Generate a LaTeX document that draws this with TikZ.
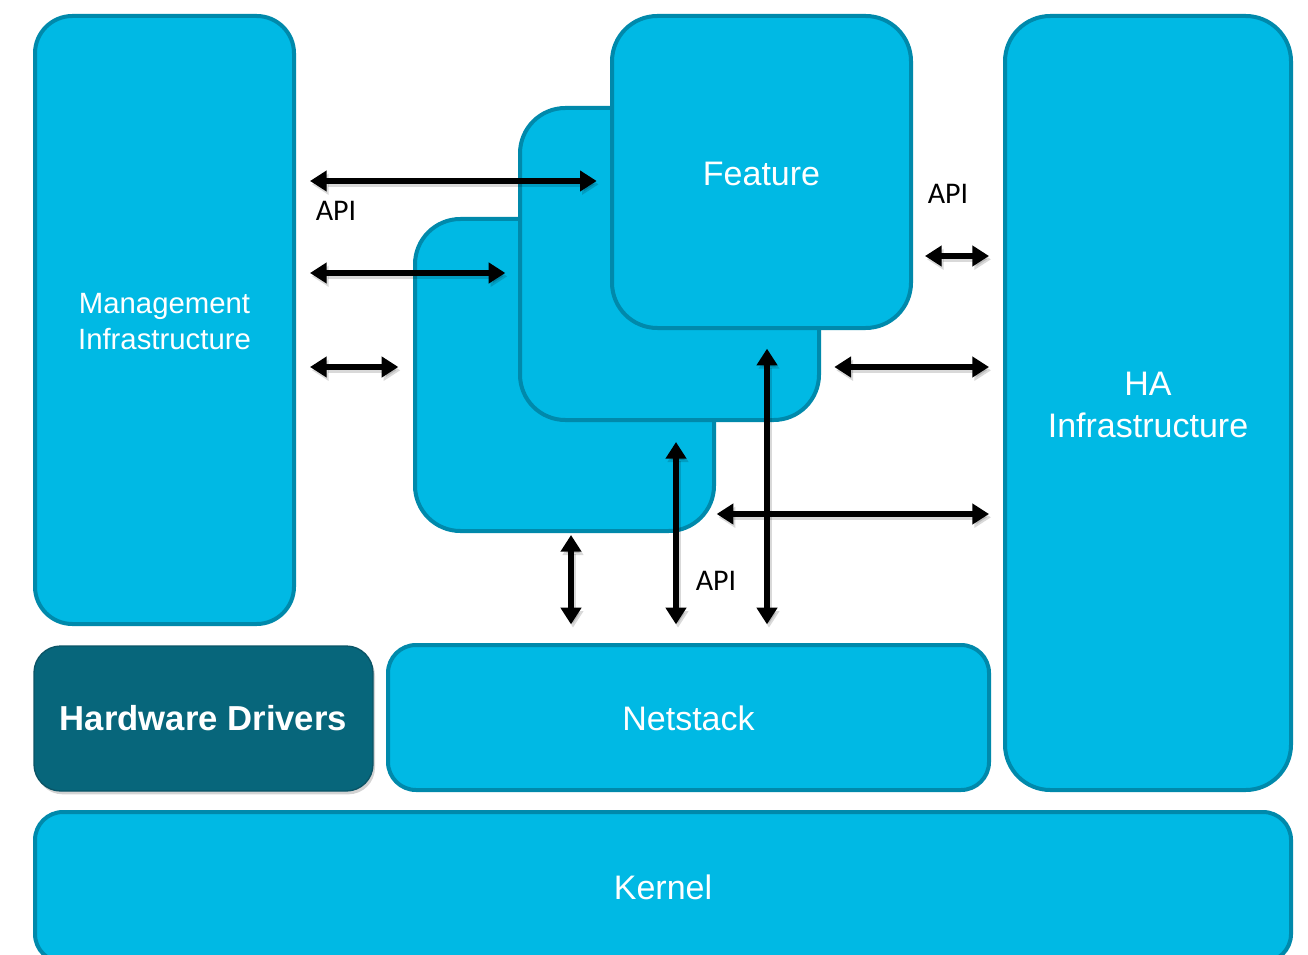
\documentclass[tikz,border=0pt]{standalone}
\usepackage{fontspec}
\setmainfont{Liberation Sans}
\newfontfamily\apifont{Carlito}
\usetikzlibrary{arrows.meta,fit,shadows}

\definecolor{boxfill}{HTML}{00B9E4}
\definecolor{boxline}{HTML}{0089AB}
\definecolor{hwfill}{HTML}{07667B}
\definecolor{hwline}{HTML}{0A5466}

\tikzset{
  box/.style={draw=boxline, fill=boxfill, line width=3pt, inner sep=0pt},
  hwbox/.style={draw=hwline, fill=hwfill, line width=1pt, inner sep=0pt,
    rounded corners=20pt,
    drop shadow={shadow xshift=1.5pt, shadow yshift=-2.5pt, opacity=.35}},
  boxtext/.style={text=white, align=center, inner sep=0pt},
  dbl/.style={line width=4pt,
    {Triangle[length=12.5pt,width=15pt]}-{Triangle[length=12.5pt,width=15pt]}},
  dblshade/.style={line width=4pt, draw=black, opacity=.15,
    {Triangle[length=12.5pt,width=15pt]}-{Triangle[length=12.5pt,width=15pt]},
    transform canvas={xshift=1.5pt, yshift=-2.5pt}},
  apilabel/.style={font=\apifont\fontsize{22.5}{26}\selectfont, text=black, inner sep=0pt},
  big/.style={font=\fontsize{25.5}{31.5}\selectfont},
}

% one API link: style, gap at start, gap at end, from, to
\newcommand\apilink[5]{\draw[#1, shorten <=#2, shorten >=#3] (#4) -- (#5);}
% every API link of the picture, drawn in the given style
\newcommand\alllinks[1]{%
  % management <-> feature cards
  \apilink{#1}{10.5pt}{10pt}{mgmt.east |- 0,181}{feat.west |- 0,181}
  \apilink{#1}{10.5pt}{9.5pt}{mgmt.east |- 0,273}{mid.west |- 0,273}
  \apilink{#1}{10.5pt}{11pt}{mgmt.east |- 0,367}{back.west |- 0,367}
  % feature cards <-> HA
  \apilink{#1}{9pt}{10.5pt}{feat.east |- 0,256}{ha.west |- 0,256}
  \apilink{#1}{10pt}{10.5pt}{mid.east |- 0,367}{ha.west |- 0,367}
  % feature cards <-> netstack
  \apilink{#1}{1.5pt}{14pt}{back.south -| 571,0}{net.north -| 571,0}
  \apilink{#1}{15pt}{14pt}{mid.south -| 676,0}{net.north -| 676,0}
  \apilink{#1}{14pt}{14pt}{feat.south -| 767,0}{net.north -| 767,0}
  \apilink{#1}{0.5pt}{10.5pt}{back.east |- 0,514}{ha.west |- 0,514}
}

\begin{document}
\begin{tikzpicture}[x=0.75pt, y=-0.75pt]
  \useasboundingbox (0,0) rectangle (1308,955);
  \clip (0,0) rectangle (1308,955);

  % left column: management
  \node[box, rounded corners=28pt, fit={(35,16) (294,624)}] (mgmt) {};
  \node[boxtext, font=\fontsize{22}{27}\selectfont] (mgmtlbl) at ([yshift=-1.5pt]mgmt.center) {Management\\Infrastructure};

  % stacked feature cards, back to front
  \node[box, rounded corners=34pt, fit={(415,219) (714,531)}] (back) {};
  \node[box, rounded corners=34pt, fit={(520,108) (819,420)}] (mid) {};
  \node[box, rounded corners=34pt, fit={(612,16) (911,328)}] (feat) {};
  \node[boxtext, big] (featlbl) at ([yshift=-1.5pt]feat.center) {Feature};

  % right column: high availability
  \node[box, rounded corners=34pt, fit={(1005,16) (1291,790)}] (ha) {};
  \node[boxtext, big] (halbl) at ([yshift=-1.5pt]ha.center) {HA\\Infrastructure};

  % lower layers
  \node[hwbox, fit={(34,646) (373,791)}] (hw) {};
  \node[boxtext, font=\bfseries\fontsize{26}{30}\selectfont] (hwlbl) at (hw.center) {Hardware Drivers};
  \node[box, rounded corners=21pt, fit={(388,645) (989,790)}] (net) {};
  \node[boxtext, big] (netlbl) at ([yshift=-1pt]net.center) {Netstack};
  \node[box, rounded corners=21pt, fit={(35,812) (1291,962)}] (kern) {};
  \node[boxtext, big] (kernlbl) at (kern.center) {Kernel};

  % API links: soft shadows first, then the arrows
  \alllinks{dblshade}
  \alllinks{dbl}

  % labels
  \node[apilabel] (api1) at (336,211) {API};
  \node[apilabel] (api2) at (948,194) {API};
  \node[apilabel] (api3) at (716,581) {API};
\end{tikzpicture}
\end{document}
